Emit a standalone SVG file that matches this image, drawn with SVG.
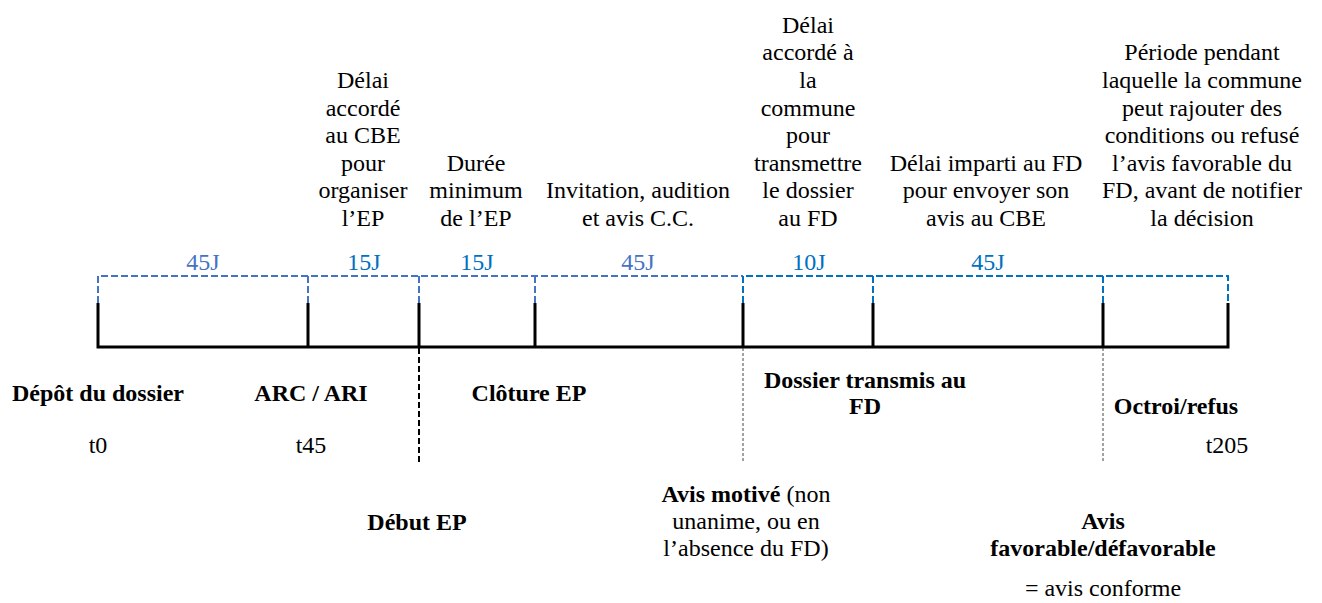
<svg xmlns="http://www.w3.org/2000/svg" width="1322" height="603" viewBox="0 0 1322 603">
<rect width="1322" height="603" fill="#fff"/>
<g id="connectors" fill="none">
<path stroke="#4472C4" stroke-width="2" stroke-dasharray="7 3" d="M98,303V276H743M308,303V276M419,303V276M535,303V276"/>
<path stroke="#0070C0" stroke-width="2" stroke-dasharray="7 3" d="M743,303V276H1228V303M873,303V276M1103,303V276"/>
<path stroke="#000" stroke-width="3" d="M98,303V347H1228V303M308,303V347M419,303V347M535,303V347M743,303V347M873,303V347M1103,303V347"/>
<path stroke="#000" stroke-width="2" stroke-dasharray="6 3" d="M419,348V463"/>
<path stroke="#444" stroke-width="1" stroke-dasharray="3 2" d="M743,348V463M1103,348V463"/>
</g>
<g id="durations" font-family="Liberation Serif" font-size="24" text-anchor="middle">
<text font-family="Liberation Serif" font-size="24" fill="#4472C4" x="203" y="270">45J</text>
<text font-family="Liberation Serif" font-size="24" fill="#0070C0" x="364" y="270">15J</text>
<text font-family="Liberation Serif" font-size="24" fill="#0070C0" x="477" y="270">15J</text>
<text font-family="Liberation Serif" font-size="24" fill="#4472C4" x="638" y="270">45J</text>
<text font-family="Liberation Serif" font-size="24" fill="#0070C0" x="809" y="270">10J</text>
<text font-family="Liberation Serif" font-size="24" fill="#0070C0" x="988" y="270">45J</text>
</g>
<g id="descriptions" font-family="Liberation Serif" font-size="24" text-anchor="middle" fill="#000">
<g id="desc-cbe"><text font-family="Liberation Serif" font-size="24"><tspan x="363" y="88">Délai</tspan><tspan x="363" y="115.6">accordé</tspan><tspan x="363" y="143.2">au CBE</tspan><tspan x="363" y="170.8">pour</tspan><tspan x="363" y="198.4">organiser</tspan><tspan x="363" y="226">l’EP</tspan></text></g>
<g id="desc-duree"><text font-family="Liberation Serif" font-size="24"><tspan x="476" y="170.8">Durée</tspan><tspan x="476" y="198.4">minimum</tspan><tspan x="476" y="226">de l’EP</tspan></text></g>
<g id="desc-invitation"><text font-family="Liberation Serif" font-size="24"><tspan x="638" y="198.4">Invitation, audition</tspan><tspan x="638" y="226">et avis C.C.</tspan></text></g>
<g id="desc-commune"><text font-family="Liberation Serif" font-size="24"><tspan x="808" y="32.8">Délai</tspan><tspan x="808" y="60.4">accordé à</tspan><tspan x="808" y="88">la</tspan><tspan x="808" y="115.6">commune</tspan><tspan x="808" y="143.2">pour</tspan><tspan x="808" y="170.8">transmettre</tspan><tspan x="808" y="198.4">le dossier</tspan><tspan x="808" y="226">au FD</tspan></text></g>
<g id="desc-fd"><text font-family="Liberation Serif" font-size="24"><tspan x="986" y="170.8">Délai imparti au FD</tspan><tspan x="986" y="198.4">pour envoyer son</tspan><tspan x="986" y="226">avis au CBE</tspan></text></g>
<g id="desc-periode"><text font-family="Liberation Serif" font-size="24"><tspan x="1202" y="60.4">Période pendant</tspan><tspan x="1202" y="88">laquelle la commune</tspan><tspan x="1202" y="115.6">peut rajouter des</tspan><tspan x="1202" y="143.2">conditions ou refusé</tspan><tspan x="1202" y="170.8">l’avis favorable du</tspan><tspan x="1202" y="198.4">FD, avant de notifier</tspan><tspan x="1202" y="226">la décision</tspan></text></g>
</g>
<g id="events" font-family="Liberation Serif" font-size="24" text-anchor="middle" fill="#000">
<g id="ev-depot"><text font-family="Liberation Serif" font-size="24" font-weight="bold" x="98" y="401">Dépôt du dossier</text><text font-family="Liberation Serif" font-size="24" x="98" y="453">t0</text></g>
<g id="ev-arc"><text font-family="Liberation Serif" font-size="24" font-weight="bold" x="311" y="401">ARC / ARI</text><text font-family="Liberation Serif" font-size="24" x="311" y="453">t45</text></g>
<g id="ev-cloture"><text font-family="Liberation Serif" font-size="24" font-weight="bold" x="529" y="401">Clôture EP</text></g>
<g id="ev-debut"><text font-family="Liberation Serif" font-size="24" font-weight="bold" x="417" y="530">Début EP</text></g>
<g id="ev-transmis"><text font-family="Liberation Serif" font-size="24" font-weight="bold"><tspan x="865" y="388">Dossier transmis au</tspan><tspan x="865" y="414">FD</tspan></text></g>
<g id="ev-avis-motive"><text font-family="Liberation Serif" font-size="24"><tspan x="746" y="502"><tspan font-weight="bold">Avis motivé</tspan> (non</tspan><tspan x="746" y="529">unanime, ou en</tspan><tspan x="746" y="556">l’absence du FD)</tspan></text></g>
<g id="ev-octroi"><text font-family="Liberation Serif" font-size="24" font-weight="bold" x="1176" y="414">Octroi/refus</text><text font-family="Liberation Serif" font-size="24" x="1227" y="453">t205</text></g>
<g id="ev-avis-fav"><text font-family="Liberation Serif" font-size="24" font-weight="bold"><tspan x="1103" y="529">Avis</tspan><tspan x="1103" y="556">favorable/défavorable</tspan></text><text font-family="Liberation Serif" font-size="24" x="1103" y="596">= avis conforme</text></g>
</g>
</svg>
